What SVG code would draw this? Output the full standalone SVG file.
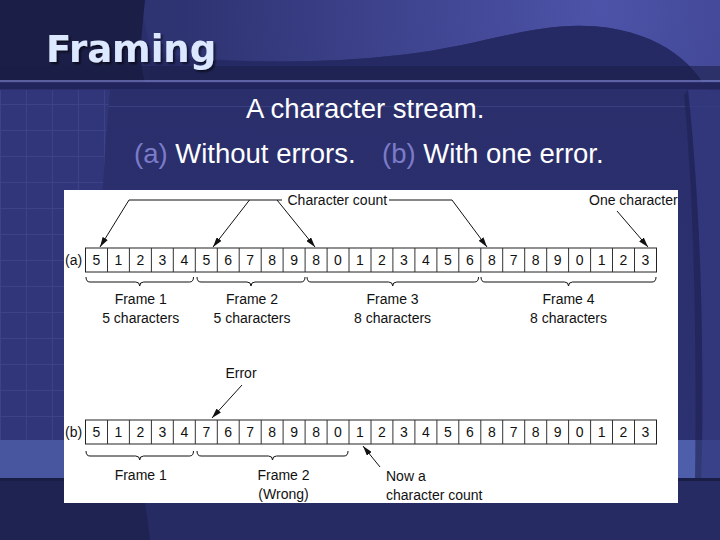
<svg xmlns="http://www.w3.org/2000/svg" width="720" height="540" viewBox="0 0 720 540">
<style>
.lbl{font-family:"Liberation Sans",Arial,sans-serif;font-size:14px;fill:#111}
.dg{font-family:"Liberation Sans",Arial,sans-serif;font-size:14px;fill:#111;text-anchor:middle}
.mid{text-anchor:middle}
.cell{fill:#fff;stroke:#222;stroke-width:1}
.div{stroke:#333;stroke-width:1;fill:none}
.br{fill:none;stroke:#111;stroke-width:1}
.con{fill:none;stroke:#111;stroke-width:1}
.arr{fill:none;stroke:#111;stroke-width:1;marker-end:url(#ah)}
.sub{font-family:"Liberation Sans",Arial,sans-serif;font-size:27.5px;fill:#fff}
.sub .ab{fill:#7b7bc8}
</style>
<defs>
<marker id="ah" viewBox="0 0 10 6" refX="10" refY="3" markerWidth="10" markerHeight="6" markerUnits="userSpaceOnUse" orient="auto">
<path d="M0,0 L10,3 L0,6 Z" fill="#111"/>
</marker>
<radialGradient id="gTop" cx="600" cy="10" r="420" gradientUnits="userSpaceOnUse">
<stop offset="0" stop-color="#4d53a8"/>
<stop offset="1" stop-color="#2e3372"/>
</radialGradient>
<linearGradient id="gMid" x1="0" y1="0" x2="0" y2="1">
<stop offset="0" stop-color="#2a2e6a"/>
<stop offset="1" stop-color="#2c3172"/>
</linearGradient>
<pattern id="grid" width="26" height="26" patternUnits="userSpaceOnUse">
<rect width="26" height="26" fill="#31367a"/>
<path d="M0,0.5 H26 M0.5,0 V26" stroke="#3c4288" stroke-width="1"/>
</pattern>
<filter id="shadow" x="-10%" y="-20%" width="130%" height="150%">
<feDropShadow dx="2" dy="2" stdDeviation="0.8" flood-color="#000" flood-opacity="0.6"/>
</filter>
<clipPath id="panelClip"><rect x="64" y="190" width="614" height="313"/></clipPath>
</defs>

<g id="background">
<rect width="720" height="540" fill="url(#gMid)"/>
<path d="M140,0 H720 V120 C705,70 670,38 610,28 C540,18 490,45 400,55 C320,64 260,62 190,58 L150,50 Z" fill="url(#gTop)"/>
<path d="M150,58 C260,62 320,64 400,55 C490,45 540,18 610,28 C670,38 705,70 720,120 V82 H150 Z" fill="#262a64" opacity="0.9"/>
<path d="M0,0 H145 C142,30 138,60 145,82 H0 Z" fill="#1b1e46"/>
<rect x="0" y="66" width="720" height="14" fill="#1a1d45" opacity="0.55"/>
<rect x="0" y="80" width="720" height="2" fill="#6a70b4" opacity="0.8"/>
<rect x="0" y="83" width="720" height="6" fill="#1c2050" opacity="0.6"/>
<rect x="0" y="106" width="720" height="1" fill="#5a60a8" opacity="0.35"/>
<path d="M0,90 H110 C100,200 96,320 100,440 H0 Z" fill="url(#grid)"/>
<rect x="0" y="440" width="110" height="38" fill="#4856a0"/>
<rect x="660" y="440" width="60" height="38" fill="#4e5eaa"/>
<path d="M688,90 C700,200 706,350 700,540 H720 V90 Z" fill="#343a80" opacity="0.8"/>
<path d="M684,95 C694,200 698,350 694,540 H700 C706,350 700,200 688,90 Z" fill="#1e2252" opacity="0.6"/>
<rect x="0" y="478" width="720" height="62" fill="#272b64"/>
<rect x="0" y="478" width="720" height="3" fill="#1a1d45"/>
<path d="M0,481 H140 C145,500 148,520 150,540 H0 Z" fill="#1f2352"/>
</g>

<g id="title">
<text x="46" y="62" font-family="'DejaVu Sans',Verdana,sans-serif" font-weight="bold" font-size="37" fill="#dce8ff" filter="url(#shadow)">Framing</text>
</g>

<g id="subtitle">
<text class="sub" x="246" y="118">A character stream.</text>
<text class="sub" x="134" y="163"><tspan class="ab">(a)</tspan> Without errors.</text>
<text class="sub" x="382" y="163"><tspan class="ab">(b)</tspan> With one error.</text>
</g>

<rect id="panel" x="64" y="190" width="614" height="313" fill="#fff"/>

<g clip-path="url(#panelClip)">
<g id="row-a">
<text class="lbl" x="65" y="265">(a)</text>
<rect class="cell" x="85.5" y="248" width="571" height="24"/>
<path class="div" d="M107.5,248V272M129.4,248V272M151.4,248V272M173.3,248V272M195.3,248V272M217.3,248V272M239.2,248V272M261.2,248V272M283.1,248V272M305.1,248V272M327.1,248V272M349,248V272M371,248V272M392.9,248V272M414.9,248V272M436.9,248V272M458.8,248V272M480.8,248V272M502.7,248V272M524.7,248V272M546.7,248V272M568.6,248V272M590.6,248V272M612.5,248V272M634.5,248V272"/>
<text class="dg" x="96.5" y="265">5</text>
<text class="dg" x="118.5" y="265">1</text>
<text class="dg" x="140.4" y="265">2</text>
<text class="dg" x="162.4" y="265">3</text>
<text class="dg" x="184.3" y="265">4</text>
<text class="dg" x="206.3" y="265">5</text>
<text class="dg" x="228.2" y="265">6</text>
<text class="dg" x="250.2" y="265">7</text>
<text class="dg" x="272.2" y="265">8</text>
<text class="dg" x="294.1" y="265">9</text>
<text class="dg" x="316.1" y="265">8</text>
<text class="dg" x="338" y="265">0</text>
<text class="dg" x="360" y="265">1</text>
<text class="dg" x="382" y="265">2</text>
<text class="dg" x="403.9" y="265">3</text>
<text class="dg" x="425.9" y="265">4</text>
<text class="dg" x="447.8" y="265">5</text>
<text class="dg" x="469.8" y="265">6</text>
<text class="dg" x="491.8" y="265">8</text>
<text class="dg" x="513.7" y="265">7</text>
<text class="dg" x="535.7" y="265">8</text>
<text class="dg" x="557.6" y="265">9</text>
<text class="dg" x="579.6" y="265">0</text>
<text class="dg" x="601.6" y="265">1</text>
<text class="dg" x="623.5" y="265">2</text>
<text class="dg" x="645.5" y="265">3</text>
</g>

<g id="frames-a">
<path class="br" d="M86,277 Q86,282 90,282 H135.7 Q139.7,282 139.7,286 Q139.7,282 143.7,282 H189.5 Q193.5,282 193.5,277"/>
<path class="br" d="M197,277 Q197,282 201,282 H247 Q251,282 251,286 Q251,282 255,282 H301 Q305,282 305,277"/>
<path class="br" d="M307,277 Q307,282 311,282 H388.7 Q392.7,282 392.7,286 Q392.7,282 396.7,282 H474.5 Q478.5,282 478.5,277"/>
<path class="br" d="M481,277 Q481,282 485,282 H564.5 Q568.5,282 568.5,286 Q568.5,282 572.5,282 H652 Q656,282 656,277"/>
<text class="lbl mid" x="140.7" y="304">Frame 1</text>
<text class="lbl mid" x="140.7" y="323">5 characters</text>
<text class="lbl mid" x="252" y="304">Frame 2</text>
<text class="lbl mid" x="252" y="323">5 characters</text>
<text class="lbl mid" x="392.6" y="304">Frame 3</text>
<text class="lbl mid" x="392.6" y="323">8 characters</text>
<text class="lbl mid" x="568.5" y="304">Frame 4</text>
<text class="lbl mid" x="568.5" y="323">8 characters</text>
</g>

<g id="row-b">
<text class="lbl" x="65" y="437">(b)</text>
<rect class="cell" x="85.5" y="420" width="571" height="24"/>
<path class="div" d="M107.5,420V444M129.4,420V444M151.4,420V444M173.3,420V444M195.3,420V444M217.3,420V444M239.2,420V444M261.2,420V444M283.1,420V444M305.1,420V444M327.1,420V444M349,420V444M371,420V444M392.9,420V444M414.9,420V444M436.9,420V444M458.8,420V444M480.8,420V444M502.7,420V444M524.7,420V444M546.7,420V444M568.6,420V444M590.6,420V444M612.5,420V444M634.5,420V444"/>
<text class="dg" x="96.5" y="437">5</text>
<text class="dg" x="118.5" y="437">1</text>
<text class="dg" x="140.4" y="437">2</text>
<text class="dg" x="162.4" y="437">3</text>
<text class="dg" x="184.3" y="437">4</text>
<text class="dg" x="206.3" y="437">7</text>
<text class="dg" x="228.2" y="437">6</text>
<text class="dg" x="250.2" y="437">7</text>
<text class="dg" x="272.2" y="437">8</text>
<text class="dg" x="294.1" y="437">9</text>
<text class="dg" x="316.1" y="437">8</text>
<text class="dg" x="338" y="437">0</text>
<text class="dg" x="360" y="437">1</text>
<text class="dg" x="382" y="437">2</text>
<text class="dg" x="403.9" y="437">3</text>
<text class="dg" x="425.9" y="437">4</text>
<text class="dg" x="447.8" y="437">5</text>
<text class="dg" x="469.8" y="437">6</text>
<text class="dg" x="491.8" y="437">8</text>
<text class="dg" x="513.7" y="437">7</text>
<text class="dg" x="535.7" y="437">8</text>
<text class="dg" x="557.6" y="437">9</text>
<text class="dg" x="579.6" y="437">0</text>
<text class="dg" x="601.6" y="437">1</text>
<text class="dg" x="623.5" y="437">2</text>
<text class="dg" x="645.5" y="437">3</text>
</g>

<g id="frames-b">
<path class="br" d="M86,451 Q86,456 90,456 H135.7 Q139.7,456 139.7,460 Q139.7,456 143.7,456 H189.5 Q193.5,456 193.5,451"/>
<path class="br" d="M197,451 Q197,456 201,456 H268.5 Q272.5,456 272.5,460 Q272.5,456 276.5,456 H344 Q348,456 348,451"/>
<text class="lbl mid" x="140.7" y="480">Frame 1</text>
<text class="lbl mid" x="283.5" y="480">Frame 2</text>
<text class="lbl mid" x="283.5" y="499">(Wrong)</text>
</g>

<g id="label-character-count">
<text class="lbl" x="287.5" y="205">Character count</text>
</g>
<g id="label-one-character">
<text class="lbl" x="589" y="205">One character</text>
</g>
<g id="label-error">
<text class="lbl mid" x="241" y="378">Error</text>
</g>
<g id="label-now">
<text class="lbl" x="386" y="481">Now a</text>
<text class="lbl" x="386" y="500">character count</text>
</g>

<g id="connectors">
<path class="con" d="M129,200 H282 M389,200 H452"/>
<path class="arr" d="M129,200 L100,247"/>
<path class="arr" d="M249.5,200 L213,247"/>
<path class="arr" d="M277,200 L315,247"/>
<path class="arr" d="M452,200 L487,247"/>
<path class="arr" d="M617,211 L648,247"/>
<path class="arr" d="M242,385 L212,418"/>
<path class="arr" d="M380,467 L363,446"/>
</g>
</g>
</svg>
